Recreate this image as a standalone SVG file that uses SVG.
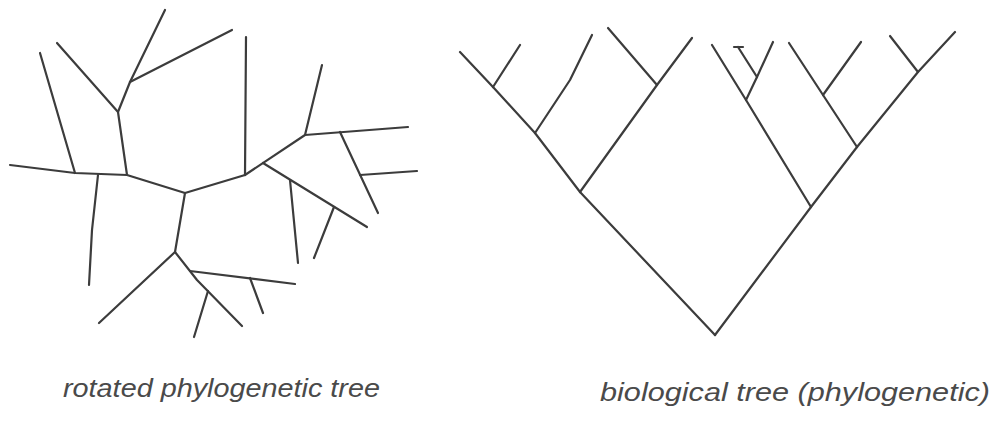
<svg xmlns="http://www.w3.org/2000/svg" width="994" height="428" viewBox="0 0 994 428">
<style>
.br{fill:none;stroke:#3c3c3c;stroke-width:2.2;stroke-linecap:round;stroke-linejoin:round}
.lbl{font-family:"Liberation Sans",Arial,sans-serif;font-size:25px;fill:#4a4a4a;font-style:italic}
</style>
<rect width="994" height="428" fill="#ffffff"/>
<g id="rotated-tree">
<g id="edges-left" class="br">
<polyline points="10,165 75,173 127,175 185,193 245,175"/>
<polyline points="75,173 40,53"/>
<polyline points="127,175 118,112 57,43"/>
<polyline points="118,112 130,82 165,10"/>
<polyline points="130,82 232,30"/>
<polyline points="98,175 92,230 89,285"/>
<polyline points="185,193 175,252"/>
<polyline points="175,252 99,323"/>
<polyline points="175,252 197,280 242,326"/>
<polyline points="208,291 194,337"/>
<polyline points="190,271 295,284"/>
<polyline points="250,278 263,313"/>
<polyline points="245,175 246,37"/>
<polyline points="245,175 305,135 408,127"/>
<polyline points="305,135 322,65"/>
<polyline points="340,132 378,213"/>
<polyline points="360,175 417,171"/>
<polyline points="263,163 367,227"/>
<polyline points="290,180 298,263"/>
<polyline points="334,207 314,258"/>
</g>
</g>
<g id="biological-tree">
<g id="edges-right" class="br">
<polyline points="715,335 580,192 535,133 493,87 460,52"/>
<polyline points="493,87 520,45"/>
<polyline points="535,133 570,80 592,35"/>
<polyline points="580,192 657,85 692,38"/>
<polyline points="657,85 608,28"/>
<polyline points="715,335 811,207 857,147 918,72 955,32"/>
<polyline points="811,207 746,100 712,45"/>
<polyline points="746,100 757,77 773,42"/>
<polyline points="757,77 738,47"/>
<polyline points="734,47 743,47"/>
<polyline points="857,147 823,95 789,43"/>
<polyline points="823,95 861,42"/>
<polyline points="918,72 890,36"/>
</g>
</g>
<g id="labels">
<text class="lbl" x="63" y="397" textLength="317" lengthAdjust="spacingAndGlyphs">rotated phylogenetic tree</text>
<text class="lbl" x="600" y="401" textLength="390" lengthAdjust="spacingAndGlyphs">biological tree (phylogenetic)</text>
</g>
</svg>
